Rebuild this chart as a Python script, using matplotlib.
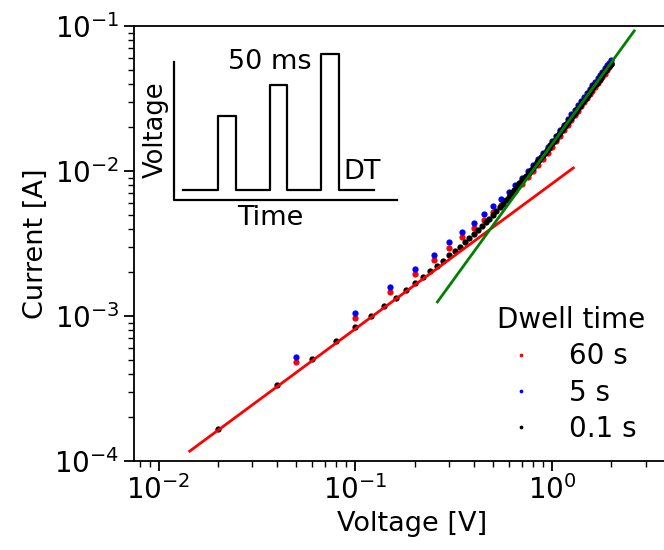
import matplotlib
matplotlib.use('Agg')
import matplotlib.pyplot as plt

# Dwell time 0.1 s : 0.02 V steps (current in mA)
V_01 = [0.02, 0.04, 0.06, 0.08, 0.10, 0.12, 0.14, 0.16, 0.18, 0.20,
        0.22, 0.24, 0.26, 0.28, 0.30, 0.32, 0.34, 0.36, 0.38, 0.40,
        0.42, 0.44, 0.46, 0.48, 0.50, 0.52, 0.54, 0.56, 0.58, 0.60,
        0.62, 0.64, 0.66, 0.68, 0.70, 0.72, 0.74, 0.76, 0.78, 0.80,
        0.82, 0.84, 0.86, 0.88, 0.90, 0.92, 0.94, 0.96, 0.98, 1.00,
        1.02, 1.04, 1.06, 1.08, 1.10, 1.12, 1.14, 1.16, 1.18, 1.20,
        1.22, 1.24, 1.26, 1.28, 1.30, 1.32, 1.34, 1.36, 1.38, 1.40,
        1.42, 1.44, 1.46, 1.48, 1.50, 1.52, 1.54, 1.56, 1.58, 1.60,
        1.62, 1.64, 1.66, 1.68, 1.70, 1.72, 1.74, 1.76, 1.78, 1.80,
        1.82, 1.84, 1.86, 1.88, 1.90, 1.92, 1.94, 1.96, 1.98, 2.00]
I_01 = [0.166, 0.334, 0.502, 0.672, 0.836, 1.005, 1.17, 1.34, 1.50, 1.69,
        1.86, 2.03, 2.22, 2.39, 2.62, 2.80, 3.00, 3.22, 3.45, 3.68,
        3.92, 4.17, 4.43, 4.70, 5.00, 5.30, 5.62, 5.95, 6.30, 6.66,
        7.03, 7.42, 7.82, 8.24, 8.67, 8.90, 9.30, 9.70, 10.1, 10.55,
        11.0, 11.45, 11.9, 12.4, 12.9, 13.4, 13.95, 14.5, 15.0, 15.55,
        16.1, 16.7, 17.3, 17.9, 18.5, 19.1, 19.8, 20.4, 21.1, 21.7,
        22.4, 23.1, 23.8, 24.5, 25.2, 25.9, 26.6, 27.4, 28.1, 28.9,
        29.7, 30.5, 31.3, 32.1, 32.9, 33.7, 34.6, 35.4, 36.3, 37.1,
        38.0, 38.9, 39.8, 40.7, 41.6, 42.5, 43.4, 44.3, 45.3, 46.2,
        47.1, 48.1, 49.0, 50.0, 51.0, 52.0, 53.0, 54.0, 55.0, 56.0]

# Dwell time 60 s and 5 s : 0.05 V steps (current in mA)
V_slow = [0.05, 0.10, 0.15, 0.20, 0.25, 0.30, 0.35, 0.40, 0.45, 0.50,
          0.55, 0.60, 0.65, 0.70, 0.75, 0.80, 0.85, 0.90, 0.95, 1.00,
          1.05, 1.10, 1.15, 1.20, 1.25, 1.30, 1.35, 1.40, 1.45, 1.50,
          1.55, 1.60, 1.65, 1.70, 1.75, 1.80, 1.85, 1.90, 1.95, 2.00]
I_60 = [0.484, 0.973, 1.46, 1.95, 2.44, 2.96, 3.48, 4.05, 4.62, 5.20,
        5.85, 6.55, 7.30, 8.15, 9.05, 10.0, 11.0, 12.1, 13.3, 14.6,
        16.0, 17.5, 19.1, 20.7, 22.4, 24.2, 26.0, 27.9, 29.8, 31.8,
        33.8, 35.9, 38.0, 40.2, 42.4, 44.7, 47.0, 49.4, 51.8, 54.3]
I_5 = [0.524, 1.05, 1.58, 2.11, 2.65, 3.22, 3.79, 4.40, 5.05, 5.70,
       6.44, 7.20, 8.05, 9.00, 9.95, 11.0, 12.1, 13.3, 14.6, 16.0,
       17.5, 19.2, 20.9, 22.7, 24.6, 26.5, 28.5, 30.5, 32.6, 34.7,
       36.9, 39.1, 41.4, 43.7, 46.1, 48.5, 51.0, 53.5, 56.0, 58.5]

# Fit lines (end points, V and A)
ohm_V = [0.0144, 1.28]
ohm_I = [1.17e-4, 1.05e-2]
sclc_V = [0.261, 2.61]
sclc_I = [1.25e-3, 9.25e-2]

mA = 1e-3
fs = 19.5

fig = plt.figure(figsize=(6.64, 5.5), dpi=100)
ax = fig.add_axes([0.2018, 0.1618, 0.837, 0.7909])

# Overlay in figure pixels, for the schematic and the legend position
ins = fig.add_axes([0, 0, 1, 1], facecolor='none')
ins.set_xlim(0, 664)
ins.set_ylim(550, 0)
ins.axis('off')

ax.plot(V_slow, [i * mA for i in I_60], 'o', color='red', ms=4.5, mec='none', label='60 s')
ax.plot(V_slow, [i * mA for i in I_5], 'o', color='blue', ms=4.5, mec='none', label='5 s')
ax.plot(V_01, [i * mA for i in I_01], 'o', color='black', ms=4.5, mec='none', label='0.1 s')
ax.plot(ohm_V, ohm_I, '-', color='red', lw=2)
ax.plot(sclc_V, sclc_I, '-', color='green', lw=2)

ax.set_xscale('log')
ax.set_yscale('log')
ax.set_xlim(0.0075, 5)
ax.set_ylim(1e-4, 1e-1)
ax.set_xlabel('Voltage [V]', fontsize=fs)
ax.set_ylabel('Current [A]', fontsize=fs)
ax.tick_params(which='major', labelsize=20, length=7, width=1.3)
ax.tick_params(which='minor', length=4, width=1)
for s in ax.spines.values():
    s.set_linewidth(1.3)

leg = ax.legend(title='Dwell time', loc='upper left', frameon=False,
                fontsize=20, title_fontsize=20, handlelength=1.7,
                handletextpad=0.9, markerscale=0.6, labelspacing=0.3,
                borderpad=0, borderaxespad=0,
                bbox_to_anchor=(497, 306), bbox_transform=ins.transData)
leg._legend_box.align = 'left'

# Inset schematic of the voltage pulses
axis_x = [173.5, 173.5, 397]
axis_y = [61.5, 199.5, 199.5]
pulse_x = [182.5, 217.5, 217.5, 235.5, 235.5, 269.5, 269.5, 286.5, 286.5,
           321, 321, 338.5, 338.5, 373.5]
pulse_y = [190, 190, 115.5, 115.5, 190, 190, 85, 85, 190, 190, 54, 54, 190, 190]
ins.plot(axis_x, axis_y, '-', color='black', lw=1.6)
ins.plot(pulse_x, pulse_y, '-', color='black', lw=1.6)
ins.text(270, 62, '50 ms', fontsize=fs, ha='center', va='center')
ins.text(362, 172, 'DT', fontsize=fs, ha='center', va='center')
ins.text(156, 130, 'Voltage', fontsize=18.5, ha='center', va='center', rotation=90)
ins.text(270, 218, 'Time', fontsize=fs, ha='center', va='center')

fig.savefig('out.png', dpi=100)
